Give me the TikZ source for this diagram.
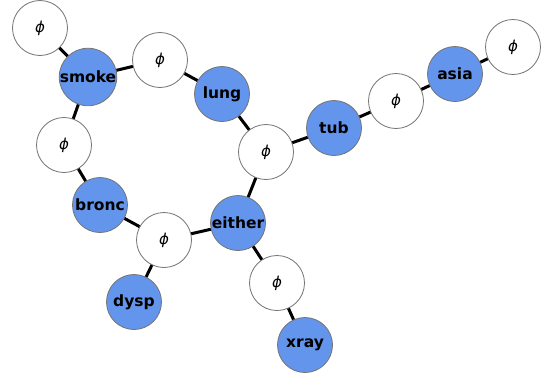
\documentclass[tikz,border=0pt]{standalone}
\usepackage{fontspec}
\setmainfont{DejaVu Sans}
\usepackage{tikz}
\usetikzlibrary{calc}

\definecolor{varblue}{HTML}{6495ED}

\begin{document}
\begin{tikzpicture}
	[   x=1pt,y=-1pt,
	    vnode/.style={draw=black!55,line width=0.8pt,fill=varblue,minimum size=55pt,inner sep=0pt,circle,font=\fontsize{15.5}{17}\selectfont\bfseries},
	    fnode/.style={draw=black!55,line width=0.8pt,fill=white,minimum size=55pt,inner sep=0pt,circle,font=\fontsize{15}{17}\selectfont\itshape},
	]
	\tikzset{factor edge/.style={draw,line width=3pt}}
	\useasboundingbox (0,0) rectangle (546,376);
	
	% variables
	\node[vnode] (smoke) at (88,77) {smoke};
	\node[vnode] (lung) at (222,94) {lung};
	\node[vnode] (bronc) at (100,205) {bronc};
	\node[vnode] (either) at (238,223) {either};
	\node[vnode] (tub) at (334,128) {tub};
	\node[vnode] (asia) at (455,74) {asia};
	\node[vnode] (dysp) at (134,302) {dysp};
	\node[vnode] (xray) at (305,345) {xray};
	
	% factors
	\node[fnode] (f-1) at (40,28) {ϕ};
	\node[fnode] (f-2) at (160,60) {ϕ};
	\node[fnode] (f-3) at (64,145) {ϕ};
	\node[fnode] (f-4) at (266,152) {ϕ};
	\node[fnode] (f-5) at (396,101) {ϕ};
	\node[fnode] (f-6) at (513,47) {ϕ};
	\node[fnode] (f-7) at (164,240) {ϕ};
	\node[fnode] (f-8) at (277,283) {ϕ};
	
	\path[factor edge] (f-1) -- (smoke);
	\path[factor edge] (smoke) -- (f-2);
	\path[factor edge] (f-2) -- (lung);
	\path[factor edge] (smoke) -- (f-3);
	\path[factor edge] (f-3) -- (bronc);
	\path[factor edge] (lung) -- (f-4);
	\path[factor edge] (f-4) -- (tub);
	\path[factor edge] (f-4) -- (either);
	\path[factor edge] (tub) -- (f-5);
	\path[factor edge] (f-5) -- (asia);
	\path[factor edge] (asia) -- (f-6);
	\path[factor edge] (bronc) -- (f-7);
	\path[factor edge] (f-7) -- (either);
	\path[factor edge] (f-7) -- (dysp);
	\path[factor edge] (either) -- (f-8);
	\path[factor edge] (f-8) -- (xray);
\end{tikzpicture}
\end{document}
